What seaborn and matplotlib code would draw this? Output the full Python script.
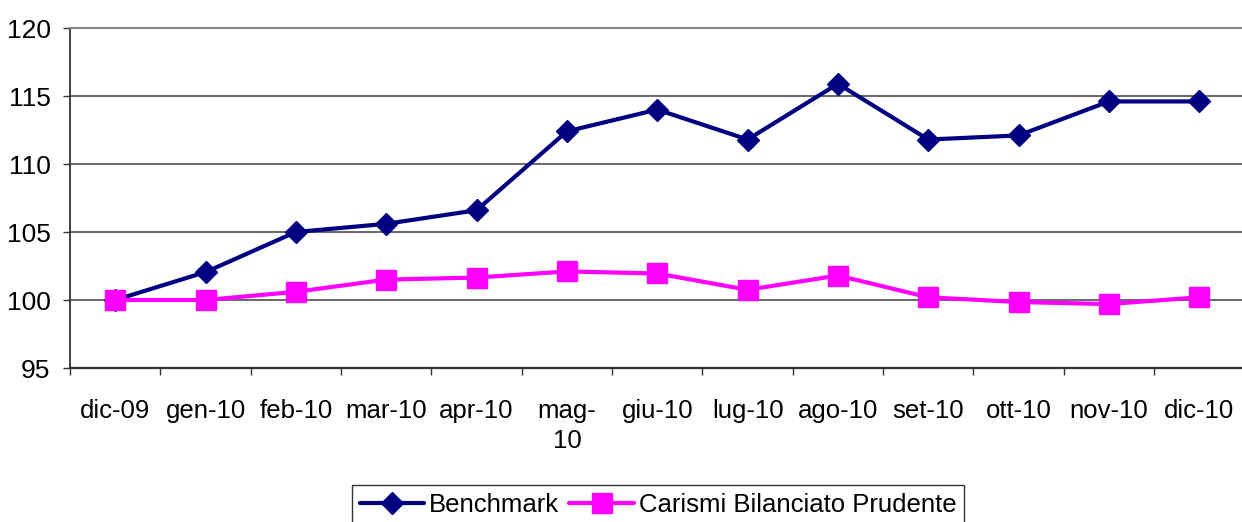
import matplotlib
matplotlib.use("Agg")
import matplotlib.pyplot as plt
import seaborn as sns
import pandas as pd
import numpy as np

categories = ["dic-09", "gen-10", "feb-10", "mar-10", "apr-10", "mag-\n10", "giu-10",
              "lug-10", "ago-10", "set-10", "ott-10", "nov-10", "dic-10"]
benchmark = [100.0, 102.05, 105.0, 105.6, 106.6, 112.4, 114.0, 111.8, 115.9, 111.8, 112.1, 114.6, 114.6]
carismi = [100.0, 100.0, 100.6, 101.5, 101.65, 102.1, 101.95, 100.75, 101.8, 100.2, 99.85, 99.7, 100.2]
series_names = ["Benchmark", "Carismi Bilanciato Prudente"]
yticks = [95, 100, 105, 110, 115, 120]

sns.set_theme(style="white")
plt.rcParams["font.family"] = ["Liberation Sans", "DejaVu Sans"]
plt.rcParams["text.color"] = "black"

idx = np.arange(len(categories))
df = pd.DataFrame({
    "x": np.concatenate([idx, idx]),
    "value": benchmark + carismi,
    "serie": [series_names[0]] * len(idx) + [series_names[1]] * len(idx),
})

fig = plt.figure(figsize=(12.42, 5.22), dpi=100)
ax = fig.add_axes([70 / 1242, 1 - 368 / 522, (1242 - 70) / 1242 + 0.002, 340 / 522])

palette = {series_names[0]: "#000080", series_names[1]: "#FF00FF"}
markers = {series_names[0]: "D", series_names[1]: "s"}
sizes = {series_names[0]: 11.5, series_names[1]: 14.5}

for name in series_names:
    sub = df[df["serie"] == name]
    sns.lineplot(data=sub, x="x", y="value", ax=ax, color=palette[name],
                 marker=markers[name], markersize=sizes[name],
                 markeredgecolor=palette[name], markeredgewidth=1,
                 linewidth=3, label=name, legend=False, zorder=3)

ax.set_xlim(-0.5, len(categories) - 0.5)
ax.set_ylim(95, 120)
ax.set_yticks(yticks)
ax.set_yticklabels([str(t) for t in yticks], fontsize=19, color="black")
ax.set_xticks(idx)
ax.set_xticklabels(categories, fontsize=18.5, color="black", linespacing=1.35, va="top")
ax.set_xticks(np.arange(-0.5, len(categories), 1.0), minor=True)
ax.tick_params(axis="x", which="major", length=0, pad=22)
ax.tick_params(axis="x", which="minor", length=5, width=1, color="#333333", direction="out", bottom=True)
ax.tick_params(axis="y", which="major", length=5, width=1, color="#333333", direction="out", left=True, pad=9)
ax.set_xlabel("")
ax.set_ylabel("")

for y in [100, 105, 110, 115]:
    ax.axhline(y, color="#404040", linewidth=1.1, zorder=1)

ax.spines["top"].set_visible(True)
ax.spines["top"].set_color("#8a8a8a")
ax.spines["top"].set_linewidth(1.6)
ax.spines["right"].set_visible(False)
ax.spines["left"].set_color("#333333")
ax.spines["left"].set_linewidth(1.3)
ax.spines["bottom"].set_color("#333333")
ax.spines["bottom"].set_linewidth(1.6)

handles, labels = ax.get_legend_handles_labels()
leg = fig.legend(handles, labels, loc="upper center", bbox_to_anchor=(658 / 1242, 1 - 485 / 522),
                 ncol=2, frameon=True, fontsize=18.5, handlelength=2.5, columnspacing=0.4,
                 handletextpad=0.2, borderpad=0.3, fancybox=False, borderaxespad=0)
leg.get_frame().set_edgecolor("black")
leg.get_frame().set_linewidth(1.0)
for t in leg.get_texts():
    t.set_color("black")

fig.savefig("out.png", dpi=100)
